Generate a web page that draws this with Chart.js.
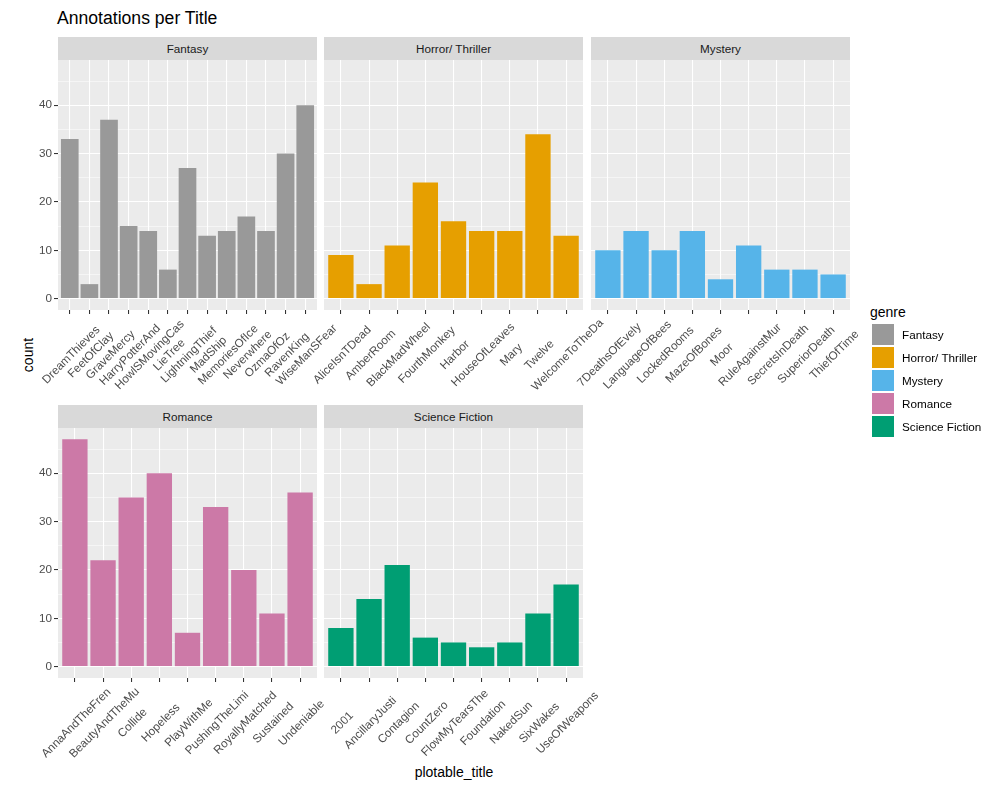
<!DOCTYPE html>
<html>
<head>
<meta charset="utf-8">
<title>Annotations per Title</title>
<script src="https://cdn.jsdelivr.net/npm/chart.js@4.4.0/dist/chart.umd.min.js"></script>
<style>
  html, body { margin: 0; padding: 0; background: #ffffff; }
  body { font-family: "Liberation Sans", Arial, sans-serif; }
  #wrap { position: relative; width: 1005px; height: 790px; overflow: hidden; }
  #wrap canvas { position: absolute; }
  .strip { position: absolute; height: 23px; line-height: 23px; background: #D9D9D9; color: #1A1A1A; font-size: 11.7px; text-align: center; }
  #title { position: absolute; left: 57px; top: 10px; font-size: 17.6px; line-height: 1; color: #000; }
  #ytitle { position: absolute; left: 28px; top: 355px; font-size: 14px; transform: translate(-50%, -50%) rotate(-90deg); color: #000; white-space: nowrap; }
  #xtitle { position: absolute; left: 454px; top: 772px; font-size: 14px; transform: translate(-50%, -50%); color: #000; white-space: nowrap; }
  #legtitle { position: absolute; left: 870px; top: 304px; font-size: 14px; line-height: 16px; color: #000; }
  .key { position: absolute; left: 872px; width: 22px; height: 21px; }
  .keylab { position: absolute; left: 902px; font-size: 11.7px; line-height: 21px; color: #000; white-space: nowrap; }
</style>
</head>
<body>
<div id="wrap">
  <div id="title">Annotations per Title</div>
  <div id="ytitle">count</div>
  <div id="xtitle">plotable_title</div>
  <div id="legtitle">genre</div>
</div>
<script>
// genres and their fill colours
var genres = ['Fantasy', 'Horror/ Thriller', 'Mystery', 'Romance', 'Science Fiction'];
var genreColors = ['#999999', '#E69F00', '#56B4E9', '#CC79A7', '#009E73'];

// titles and annotation counts per genre
var fantasyTitles = ['DreamThieves', 'FeetOfClay', 'GraveMercy', 'HarryPotterAnd', 'HowlSMovingCas', 'LieTree', 'LightningThief', 'MadShip', 'MemoriesOfIce', 'Neverwhere', 'OzmaOfOz', 'RavenKing', 'WiseManSFear'];
var fantasyCounts = [33, 3, 37, 15, 14, 6, 27, 13, 14, 17, 14, 30, 40];

var horrorTitles = ['AliceIsnTDead', 'AmberRoom', 'BlackMadWheel', 'FourthMonkey', 'Harbor', 'HouseOfLeaves', 'Mary', 'Twelve', 'WelcomeToTheDa'];
var horrorCounts = [9, 3, 11, 24, 16, 14, 14, 34, 13];

var mysteryTitles = ['7DeathsOfEvely', 'LanguageOfBees', 'LockedRooms', 'MazeOfBones', 'Moor', 'RuleAgainstMur', 'SecretsInDeath', 'SuperiorDeath', 'ThiefOfTime'];
var mysteryCounts = [10, 14, 10, 14, 4, 11, 6, 6, 5];

var romanceTitles = ['AnnaAndTheFren', 'BeautyAndTheMu', 'Collide', 'Hopeless', 'PlayWithMe', 'PushingTheLimi', 'RoyallyMatched', 'Sustained', 'Undeniable'];
var romanceCounts = [47, 22, 35, 40, 7, 33, 20, 11, 36];

var scifiTitles = ['2001', 'AncillaryJusti', 'Contagion', 'CountZero', 'FlowMyTearsThe', 'Foundation', 'NakedSun', 'SixWakes', 'UseOfWeapons'];
var scifiCounts = [8, 14, 21, 6, 5, 4, 5, 11, 17];

// y axis ticks (shared by all panels)
var yMajor = [0, 10, 20, 30, 40];
var yMinor = [5, 15, 25, 35, 45];
var yMin = -2.35, yMax = 49.35;

// panel layout
var colLeft = [58, 324, 591];
var stripTop = [37, 405];
var STRIP_H = 23, PW = 259, PH = 250;
var FONT = '"Liberation Sans", Arial, sans-serif';

var panels = [
  { g: 0, titles: fantasyTitles, counts: fantasyCounts, row: 0, col: 0 },
  { g: 1, titles: horrorTitles, counts: horrorCounts, row: 0, col: 1 },
  { g: 2, titles: mysteryTitles, counts: mysteryCounts, row: 0, col: 2 },
  { g: 3, titles: romanceTitles, counts: romanceCounts, row: 1, col: 0 },
  { g: 4, titles: scifiTitles, counts: scifiCounts, row: 1, col: 1 }
];

var wrap = document.getElementById('wrap');

// grey panel background
var panelBg = {
  id: 'panelBg',
  beforeDraw: function(chart) {
    var a = chart.chartArea, ctx = chart.ctx;
    ctx.save();
    ctx.fillStyle = '#EBEBEB';
    ctx.fillRect(a.left, a.top, a.right - a.left, a.bottom - a.top);
    ctx.restore();
  }
};

// x labels rotated 45 deg, centred under each tick (like ggplot)
function rotLabels(titles) {
  return {
    id: 'rotLabels',
    afterDraw: function(chart) {
      var ctx = chart.ctx, xs = chart.scales.x, bottom = chart.chartArea.bottom;
      ctx.save();
      ctx.font = '11.7px ' + FONT;
      ctx.fillStyle = '#4D4D4D';
      ctx.textAlign = 'center';
      ctx.textBaseline = 'middle';
      for (var i = 0; i < titles.length; i++) {
        ctx.save();
        ctx.translate(xs.getPixelForValue(i) + 1.5, bottom + 45);
        ctx.rotate(-Math.PI / 4);
        ctx.fillText(titles[i], 0, 0);
        ctx.restore();
      }
      ctx.restore();
    }
  };
}

function isMajor(c) {
  return c.tick && yMajor.indexOf(c.tick.value) >= 0;
}

panels.forEach(function(p) {
  var showY = p.col === 0;
  var padL = showY ? 58 : 60;
  var padR = 60, padB = 110;

  var strip = document.createElement('div');
  strip.className = 'strip';
  strip.style.left = colLeft[p.col] + 'px';
  strip.style.top = stripTop[p.row] + 'px';
  strip.style.width = PW + 'px';
  strip.textContent = genres[p.g];
  wrap.appendChild(strip);

  var canvas = document.createElement('canvas');
  canvas.width = padL + PW + padR;
  canvas.height = PH + padB;
  canvas.style.left = (colLeft[p.col] - padL) + 'px';
  canvas.style.top = (stripTop[p.row] + STRIP_H) + 'px';
  wrap.appendChild(canvas);

  new Chart(canvas, {
    type: 'bar',
    data: {
      datasets: [{
        data: p.counts.map(function(v, i) { return { x: i, y: v }; }),
        backgroundColor: genreColors[p.g],
        borderWidth: 0,
        barPercentage: 0.9,
        categoryPercentage: 1.0
      }]
    },
    options: {
      responsive: false,
      animation: false,
      devicePixelRatio: 1,
      layout: { padding: { left: 0, right: padR, top: 0, bottom: 0 } },
      plugins: { legend: { display: false }, tooltip: { enabled: false } },
      scales: {
        x: {
          type: 'linear',
          min: -0.6,
          max: p.counts.length - 1 + 0.6,
          offset: false,
          afterBuildTicks: function(s) {
            s.ticks = p.titles.map(function(t, i) { return { value: i }; });
          },
          afterFit: function(s) { s.height = padB; s.paddingLeft = 0; s.paddingRight = 0; },
          grid: { color: '#FFFFFF', lineWidth: 1.07, offset: false, drawTicks: true, tickLength: 4, tickColor: '#333333', tickWidth: 1.07 },
          border: { display: false },
          ticks: { display: false }
        },
        y: {
          type: 'linear',
          min: yMin,
          max: yMax,
          afterBuildTicks: function(s) {
            s.ticks = yMajor.concat(yMinor).sort(function(a, b) { return a - b; }).map(function(v) { return { value: v }; });
          },
          afterFit: function(s) { s.width = padL; s.paddingTop = 0; s.paddingBottom = 0; },
          grid: {
            color: '#FFFFFF',
            lineWidth: function(c) { return isMajor(c) ? 1.07 : 0.53; },
            drawTicks: showY,
            tickLength: 4,
            tickWidth: 1.07,
            tickColor: function(c) { return isMajor(c) ? '#333333' : 'rgba(0,0,0,0)'; }
          },
          border: { display: false },
          ticks: {
            display: showY,
            autoSkip: false,
            padding: 2,
            color: '#4D4D4D',
            font: { family: FONT, size: 11.7 },
            callback: function(v) { return yMajor.indexOf(v) >= 0 ? String(v) : ''; }
          }
        }
      }
    },
    plugins: [panelBg, rotLabels(p.titles)]
  });
});

// legend
genres.forEach(function(g, i) {
  var key = document.createElement('div');
  key.className = 'key';
  key.style.top = (324 + 23 * i) + 'px';
  key.style.background = genreColors[i];
  wrap.appendChild(key);
  var lab = document.createElement('div');
  lab.className = 'keylab';
  lab.style.top = (324 + 23 * i) + 'px';
  lab.textContent = g;
  wrap.appendChild(lab);
});
</script>
</body>
</html>
